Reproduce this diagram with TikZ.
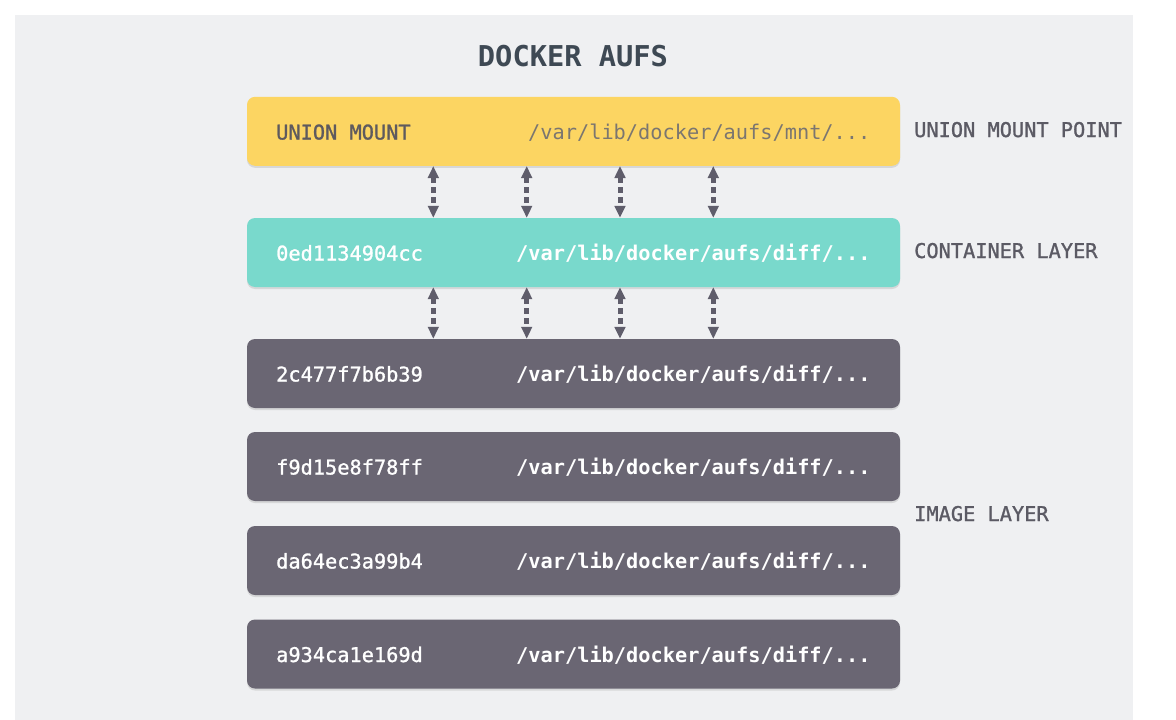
\documentclass[tikz,border=0pt]{standalone}
\usepackage{fontspec}
\setmonofont{DejaVu Sans Mono}
\newfontfamily\semimono[FakeBold=1.2]{DejaVu Sans Mono}
\usetikzlibrary{arrows.meta,shadows,calc}
\definecolor{panel}{HTML}{EFF0F2}
\definecolor{ylw}{HTML}{FCD562}
\definecolor{teal}{HTML}{79D9CC}
\definecolor{slate}{HTML}{6A6673}
\definecolor{arrowc}{HTML}{5F5D6B}
\definecolor{lblc}{HTML}{5B5A64}
\definecolor{titlec}{HTML}{3E4954}
\definecolor{pathy}{HTML}{7B7670}
\definecolor{unionc}{HTML}{5E5A5E}
\begin{document}
\begin{tikzpicture}[x=1pt,y=-1pt,
  layer/.style={rounded corners=8pt, minimum width=653pt, minimum height=69pt, inner sep=0pt,
    drop shadow={opacity=0.22, shadow xshift=0pt, shadow yshift=-2pt}},
  txt/.style={anchor=base west, inner sep=0pt, font=\semimono\fontsize{20.3}{24}\selectfont},
  pathtxt/.style={txt, font=\ttfamily\bfseries\fontsize{20.3}{24}\selectfont},
  side/.style={txt, text=lblc},
  link/.style={arrowc, line width=5pt, dash pattern=on 6pt off 4pt,
    {Triangle[width=10.5pt,length=12pt]}-{Triangle[width=10.5pt,length=12pt]}}
]
\useasboundingbox (0,0) rectangle (1176,720);
\fill[white] (0,0) rectangle (1176,720);
\fill[panel] (15,15) rectangle (1133,720);

\node[anchor=base, inner sep=0pt, text=titlec, font=\ttfamily\bfseries\fontsize{28.7}{32}\selectfont] (title) at (573,66) {DOCKER AUFS};

\node[layer, fill=ylw] (um) at (573.5,131.3) {};
\node[layer, fill=teal] (cl) at (573.5,252.5) {};
\node[layer, fill=slate] (g1) at (573.5,373.5) {};
\node[layer, fill=slate] (g2) at (573.5,466.5) {};
\node[layer, fill=slate] (g3) at (573.5,560.5) {};
\node[layer, fill=slate] (g4) at (573.5,654) {};

\node[txt, text=unionc, font=\semimono\fontsize{20.3}{24}\selectfont] (umid) at (276,139.5) {UNION MOUNT};
\node[txt, text=pathy, font=\ttfamily\fontsize{20.3}{24}\selectfont] (umpath) at (528,139.5) {/var/lib/docker/aufs/mnt/...};
\node[txt, text=white] (clid) at (276,260.5) {0ed1134904cc};
\node[pathtxt, text=white] (clpath) at (516,260.5) {/var/lib/docker/aufs/diff/...};
\node[txt, text=white] (g1id) at (276,381.5) {2c477f7b6b39};
\node[pathtxt, text=white] (g1path) at (516,381.5) {/var/lib/docker/aufs/diff/...};
\node[txt, text=white] (g2id) at (276,474.5) {f9d15e8f78ff};
\node[pathtxt, text=white] (g2path) at (516,474.5) {/var/lib/docker/aufs/diff/...};
\node[txt, text=white] (g3id) at (276,568.5) {da64ec3a99b4};
\node[pathtxt, text=white] (g3path) at (516,568.5) {/var/lib/docker/aufs/diff/...};
\node[txt, text=white] (g4id) at (276,662) {a934ca1e169d};
\node[pathtxt, text=white] (g4path) at (516,662) {/var/lib/docker/aufs/diff/...};

\node[side] (lump) at (914,137) {UNION MOUNT POINT};
\node[side] (lcl) at (914,258) {CONTAINER LAYER};
\node[side] (lil) at (914,521) {IMAGE LAYER};

\coordinate (xa) at (433.3,0);
\coordinate (xb) at (526.7,0);
\coordinate (xc) at (620,0);
\coordinate (xd) at (713.3,0);
\foreach \c in {xa,xb,xc,xd}{
  \draw[link] (um.south -| \c) -- (cl.north -| \c);
  \draw[link] (cl.south -| \c) -- (g1.north -| \c);
}
\end{tikzpicture}
\end{document}
